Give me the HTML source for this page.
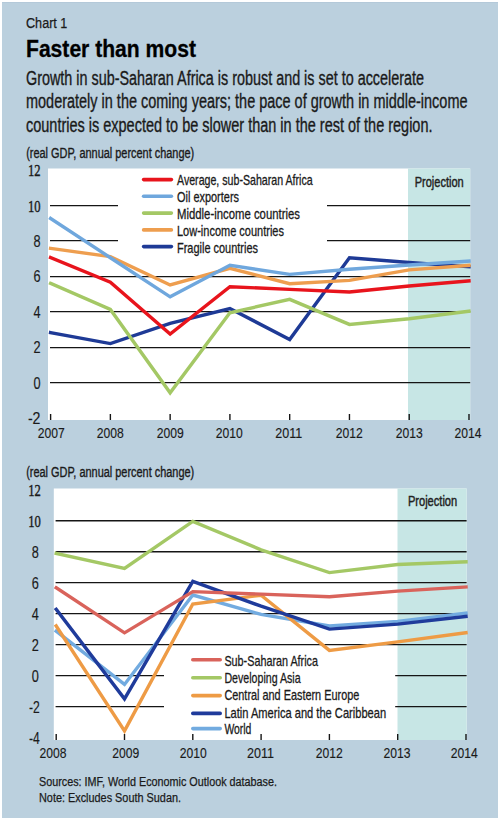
<!DOCTYPE html><html><head><meta charset="utf-8"><style>html,body{margin:0;padding:0;background:#fff;overflow:hidden;width:500px;height:820px;}svg{display:block;}</style></head><body>
<svg width="500" height="820" viewBox="0 0 500 820">
<rect x="0" y="0" width="500" height="820" fill="#fff"/>
<rect x="2" y="2" width="496" height="816" fill="#BBD0DE"/>
<rect x="2" y="2" width="496" height="1" fill="#B4C9D9"/>
<text x="26.00" y="27.60" font-family='"Liberation Sans", sans-serif' font-size="15.4" font-weight="normal" fill="#1a1a1a" text-anchor="start" textLength="41.40" lengthAdjust="spacingAndGlyphs" stroke="#1a1a1a" stroke-width="0.25">Chart 1</text>
<text x="26.00" y="56.50" font-family='"Liberation Sans", sans-serif' font-size="23.2" font-weight="bold" fill="#000" text-anchor="start" textLength="170.00" lengthAdjust="spacingAndGlyphs" stroke="#000" stroke-width="0.3">Faster than most</text>
<text x="26.00" y="84.60" font-family='"Liberation Sans", sans-serif' font-size="19.5" font-weight="normal" fill="#1a1a1a" text-anchor="start" textLength="398.00" lengthAdjust="spacingAndGlyphs" stroke="#1a1a1a" stroke-width="0.35">Growth in sub-Saharan Africa is robust and is set to accelerate</text>
<text x="26.00" y="108.30" font-family='"Liberation Sans", sans-serif' font-size="19.5" font-weight="normal" fill="#1a1a1a" text-anchor="start" textLength="441.50" lengthAdjust="spacingAndGlyphs" stroke="#1a1a1a" stroke-width="0.35">moderately in the coming years; the pace of growth in middle-income</text>
<text x="26.00" y="132.10" font-family='"Liberation Sans", sans-serif' font-size="19.5" font-weight="normal" fill="#1a1a1a" text-anchor="start" textLength="406.50" lengthAdjust="spacingAndGlyphs" stroke="#1a1a1a" stroke-width="0.35">countries is expected to be slower than in the rest of the region.</text>
<rect x="48" y="168.5" width="422.2" height="251.5" fill="#fff"/>
<rect x="408" y="168.5" width="62.19999999999999" height="251.5" fill="#C7E6E5"/>
<line x1="50.0" y1="382.50" x2="470.2" y2="382.50" stroke="#151515" stroke-width="1.25"/>
<line x1="50.0" y1="347.50" x2="470.2" y2="347.50" stroke="#151515" stroke-width="1.25"/>
<line x1="50.0" y1="311.50" x2="470.2" y2="311.50" stroke="#151515" stroke-width="1.25"/>
<line x1="50.0" y1="276.50" x2="470.2" y2="276.50" stroke="#151515" stroke-width="1.25"/>
<line x1="50.0" y1="240.50" x2="118" y2="240.50" stroke="#151515" stroke-width="1.25"/>
<line x1="327" y1="240.50" x2="470.2" y2="240.50" stroke="#151515" stroke-width="1.25"/>
<line x1="50.0" y1="205.50" x2="118" y2="205.50" stroke="#151515" stroke-width="1.25"/>
<line x1="327" y1="205.50" x2="470.2" y2="205.50" stroke="#151515" stroke-width="1.25"/>
<line x1="50.60" y1="414" x2="50.60" y2="420" stroke="#151515" stroke-width="1.4"/>
<line x1="110.37" y1="414" x2="110.37" y2="420" stroke="#151515" stroke-width="1.4"/>
<line x1="170.14" y1="414" x2="170.14" y2="420" stroke="#151515" stroke-width="1.4"/>
<line x1="229.91" y1="414" x2="229.91" y2="420" stroke="#151515" stroke-width="1.4"/>
<line x1="289.68" y1="414" x2="289.68" y2="420" stroke="#151515" stroke-width="1.4"/>
<line x1="349.45" y1="414" x2="349.45" y2="420" stroke="#151515" stroke-width="1.4"/>
<line x1="409.22" y1="414" x2="409.22" y2="420" stroke="#151515" stroke-width="1.4"/>
<line x1="468.99" y1="414" x2="468.99" y2="420" stroke="#151515" stroke-width="1.4"/>
<polyline points="50.60,332.59 110.37,343.56 170.14,323.38 229.91,308.51 289.68,339.49 349.45,257.72 409.22,262.49 468.99,266.74" fill="none" stroke="#1E3A96" stroke-width="3.4" stroke-linejoin="miter" stroke-miterlimit="3" stroke-linecap="square"/>
<polyline points="50.60,248.33 110.37,256.65 170.14,284.97 229.91,268.34 289.68,283.73 349.45,280.37 409.22,269.93 468.99,265.33" fill="none" stroke="#EE9E4F" stroke-width="3.4" stroke-linejoin="miter" stroke-miterlimit="3" stroke-linecap="square"/>
<polyline points="50.60,283.38 110.37,309.40 170.14,392.77 229.91,312.76 289.68,299.31 349.45,324.44 409.22,318.78 468.99,311.17" fill="none" stroke="#A4C865" stroke-width="3.4" stroke-linejoin="miter" stroke-miterlimit="3" stroke-linecap="square"/>
<polyline points="50.60,218.42 110.37,257.72 170.14,296.83 229.91,265.33 289.68,274.35 349.45,269.22 409.22,264.97 468.99,261.08" fill="none" stroke="#6FA7DD" stroke-width="3.4" stroke-linejoin="miter" stroke-miterlimit="3" stroke-linecap="square"/>
<polyline points="50.60,257.54 110.37,282.14 170.14,334.00 229.91,286.74 289.68,289.40 349.45,292.05 409.22,286.03 468.99,280.90" fill="none" stroke="#E8141C" stroke-width="3.4" stroke-linejoin="miter" stroke-miterlimit="3" stroke-linecap="square"/>
<line x1="143.6" y1="179.6" x2="171.4" y2="179.6" stroke="#E8141C" stroke-width="3.6" stroke-linecap="round"/>
<text x="177.00" y="184.90" font-family='"Liberation Sans", sans-serif' font-size="14.5" font-weight="normal" fill="#1a1a1a" text-anchor="start" textLength="135.60" lengthAdjust="spacingAndGlyphs" stroke="#1a1a1a" stroke-width="0.3">Average, sub-Saharan Africa</text>
<line x1="143.6" y1="196.3" x2="171.4" y2="196.3" stroke="#6FA7DD" stroke-width="3.6" stroke-linecap="round"/>
<text x="177.00" y="201.90" font-family='"Liberation Sans", sans-serif' font-size="14.5" font-weight="normal" fill="#1a1a1a" text-anchor="start" textLength="62.00" lengthAdjust="spacingAndGlyphs" stroke="#1a1a1a" stroke-width="0.3">Oil exporters</text>
<line x1="143.6" y1="213.1" x2="171.4" y2="213.1" stroke="#A4C865" stroke-width="3.6" stroke-linecap="round"/>
<text x="177.00" y="218.90" font-family='"Liberation Sans", sans-serif' font-size="14.5" font-weight="normal" fill="#1a1a1a" text-anchor="start" textLength="123.00" lengthAdjust="spacingAndGlyphs" stroke="#1a1a1a" stroke-width="0.3">Middle-income countries</text>
<line x1="143.6" y1="229.9" x2="171.4" y2="229.9" stroke="#EE9E4F" stroke-width="3.6" stroke-linecap="round"/>
<text x="177.00" y="235.60" font-family='"Liberation Sans", sans-serif' font-size="14.5" font-weight="normal" fill="#1a1a1a" text-anchor="start" textLength="107.00" lengthAdjust="spacingAndGlyphs" stroke="#1a1a1a" stroke-width="0.3">Low-income countries</text>
<line x1="143.6" y1="246.6" x2="171.4" y2="246.6" stroke="#1E3A96" stroke-width="3.6" stroke-linecap="round"/>
<text x="177.00" y="252.50" font-family='"Liberation Sans", sans-serif' font-size="14.5" font-weight="normal" fill="#1a1a1a" text-anchor="start" textLength="81.00" lengthAdjust="spacingAndGlyphs" stroke="#1a1a1a" stroke-width="0.3">Fragile countries</text>
<text x="414.70" y="186.80" font-family='"Liberation Sans", sans-serif' font-size="15" font-weight="normal" fill="#222" text-anchor="start" textLength="49.00" lengthAdjust="spacingAndGlyphs" stroke="#222" stroke-width="0.45">Projection</text>
<text x="40.50" y="424.00" font-family='"Liberation Sans", sans-serif' font-size="16.2" font-weight="normal" fill="#1a1a1a" text-anchor="end" textLength="12.60" lengthAdjust="spacingAndGlyphs" stroke="#1a1a1a" stroke-width="0.15">-2</text>
<text x="40.50" y="388.60" font-family='"Liberation Sans", sans-serif' font-size="16.2" font-weight="normal" fill="#1a1a1a" text-anchor="end" textLength="7.10" lengthAdjust="spacingAndGlyphs" stroke="#1a1a1a" stroke-width="0.15">0</text>
<text x="40.50" y="353.20" font-family='"Liberation Sans", sans-serif' font-size="16.2" font-weight="normal" fill="#1a1a1a" text-anchor="end" textLength="7.10" lengthAdjust="spacingAndGlyphs" stroke="#1a1a1a" stroke-width="0.15">2</text>
<text x="40.50" y="317.80" font-family='"Liberation Sans", sans-serif' font-size="16.2" font-weight="normal" fill="#1a1a1a" text-anchor="end" textLength="7.10" lengthAdjust="spacingAndGlyphs" stroke="#1a1a1a" stroke-width="0.15">4</text>
<text x="40.50" y="282.40" font-family='"Liberation Sans", sans-serif' font-size="16.2" font-weight="normal" fill="#1a1a1a" text-anchor="end" textLength="7.10" lengthAdjust="spacingAndGlyphs" stroke="#1a1a1a" stroke-width="0.15">6</text>
<text x="40.50" y="247.00" font-family='"Liberation Sans", sans-serif' font-size="16.2" font-weight="normal" fill="#1a1a1a" text-anchor="end" textLength="7.10" lengthAdjust="spacingAndGlyphs" stroke="#1a1a1a" stroke-width="0.15">8</text>
<text x="40.50" y="211.50" font-family='"Liberation Serif", serif' font-size="16.3" font-weight="normal" fill="#1a1a1a" text-anchor="end" textLength="12.60" lengthAdjust="spacingAndGlyphs" stroke="#1a1a1a" stroke-width="0.4">10</text>
<text x="40.50" y="176.10" font-family='"Liberation Serif", serif' font-size="16.3" font-weight="normal" fill="#1a1a1a" text-anchor="end" textLength="12.60" lengthAdjust="spacingAndGlyphs" stroke="#1a1a1a" stroke-width="0.4">12</text>
<text x="51.25" y="438.00" font-family='"Liberation Sans", sans-serif' font-size="15.5" font-weight="normal" fill="#1a1a1a" text-anchor="middle" textLength="27.00" lengthAdjust="spacingAndGlyphs" stroke="#1a1a1a" stroke-width="0.15">2007</text>
<text x="110.25" y="438.00" font-family='"Liberation Sans", sans-serif' font-size="15.5" font-weight="normal" fill="#1a1a1a" text-anchor="middle" textLength="27.00" lengthAdjust="spacingAndGlyphs" stroke="#1a1a1a" stroke-width="0.15">2008</text>
<text x="170.25" y="438.00" font-family='"Liberation Sans", sans-serif' font-size="15.5" font-weight="normal" fill="#1a1a1a" text-anchor="middle" textLength="27.00" lengthAdjust="spacingAndGlyphs" stroke="#1a1a1a" stroke-width="0.15">2009</text>
<text x="229.25" y="438.00" font-family='"Liberation Sans", sans-serif' font-size="15.5" font-weight="normal" fill="#1a1a1a" text-anchor="middle" textLength="27.00" lengthAdjust="spacingAndGlyphs" stroke="#1a1a1a" stroke-width="0.15">2010</text>
<text x="288.75" y="438.00" font-family='"Liberation Sans", sans-serif' font-size="15.5" font-weight="normal" fill="#1a1a1a" text-anchor="middle" textLength="27.00" lengthAdjust="spacingAndGlyphs" stroke="#1a1a1a" stroke-width="0.15">2011</text>
<text x="349.25" y="438.00" font-family='"Liberation Sans", sans-serif' font-size="15.5" font-weight="normal" fill="#1a1a1a" text-anchor="middle" textLength="27.00" lengthAdjust="spacingAndGlyphs" stroke="#1a1a1a" stroke-width="0.15">2012</text>
<text x="409.25" y="438.00" font-family='"Liberation Sans", sans-serif' font-size="15.5" font-weight="normal" fill="#1a1a1a" text-anchor="middle" textLength="27.00" lengthAdjust="spacingAndGlyphs" stroke="#1a1a1a" stroke-width="0.15">2013</text>
<text x="468.00" y="438.00" font-family='"Liberation Sans", sans-serif' font-size="15.5" font-weight="normal" fill="#1a1a1a" text-anchor="middle" textLength="27.00" lengthAdjust="spacingAndGlyphs" stroke="#1a1a1a" stroke-width="0.15">2014</text>
<text x="26.20" y="157.90" font-family='"Liberation Sans", sans-serif' font-size="14" font-weight="normal" fill="#1a1a1a" text-anchor="start" textLength="168.00" lengthAdjust="spacingAndGlyphs" stroke="#1a1a1a" stroke-width="0.35">(real GDP, annual percent change)</text>
<rect x="53.8" y="488.5" width="412.8" height="251.5" fill="#fff"/>
<rect x="397.5" y="488.5" width="69.10000000000002" height="251.5" fill="#C7E6E5"/>
<line x1="55.6" y1="706.58" x2="164" y2="706.58" stroke="#151515" stroke-width="1.4"/>
<line x1="395.2" y1="706.58" x2="466.6" y2="706.58" stroke="#151515" stroke-width="1.4"/>
<line x1="55.6" y1="675.60" x2="164" y2="675.60" stroke="#151515" stroke-width="1.4"/>
<line x1="395.2" y1="675.60" x2="466.6" y2="675.60" stroke="#151515" stroke-width="1.4"/>
<line x1="55.6" y1="644.62" x2="466.6" y2="644.62" stroke="#151515" stroke-width="1.4"/>
<line x1="55.6" y1="613.64" x2="466.6" y2="613.64" stroke="#151515" stroke-width="1.4"/>
<line x1="55.6" y1="582.66" x2="466.6" y2="582.66" stroke="#151515" stroke-width="1.4"/>
<line x1="55.6" y1="551.68" x2="466.6" y2="551.68" stroke="#151515" stroke-width="1.4"/>
<line x1="55.6" y1="520.70" x2="466.6" y2="520.70" stroke="#151515" stroke-width="1.4"/>
<line x1="56.20" y1="734" x2="56.20" y2="740" stroke="#151515" stroke-width="1.4"/>
<line x1="124.50" y1="734" x2="124.50" y2="740" stroke="#151515" stroke-width="1.4"/>
<line x1="192.80" y1="734" x2="192.80" y2="740" stroke="#151515" stroke-width="1.4"/>
<line x1="261.10" y1="734" x2="261.10" y2="740" stroke="#151515" stroke-width="1.4"/>
<line x1="329.40" y1="734" x2="329.40" y2="740" stroke="#151515" stroke-width="1.4"/>
<line x1="397.70" y1="734" x2="397.70" y2="740" stroke="#151515" stroke-width="1.4"/>
<line x1="466.00" y1="734" x2="466.00" y2="740" stroke="#151515" stroke-width="1.4"/>
<polyline points="56.20,631.14 124.50,684.43 192.80,595.05 261.10,614.41 329.40,626.03 397.70,621.38 466.00,613.02" fill="none" stroke="#72ABE0" stroke-width="3.4" stroke-linejoin="miter" stroke-miterlimit="3" stroke-linecap="square"/>
<polyline points="56.20,625.88 124.50,730.90 192.80,604.04 261.10,595.21 329.40,650.35 397.70,641.83 466.00,632.69" fill="none" stroke="#EE9B45" stroke-width="3.4" stroke-linejoin="miter" stroke-miterlimit="3" stroke-linecap="square"/>
<polyline points="56.20,609.30 124.50,698.84 192.80,581.42 261.10,606.20 329.40,629.13 397.70,624.17 466.00,616.43" fill="none" stroke="#1F3B9B" stroke-width="3.4" stroke-linejoin="miter" stroke-miterlimit="3" stroke-linecap="square"/>
<polyline points="56.20,553.38 124.50,568.41 192.80,521.32 261.10,549.82 329.40,572.59 397.70,564.54 466.00,561.75" fill="none" stroke="#A4C865" stroke-width="3.4" stroke-linejoin="miter" stroke-miterlimit="3" stroke-linecap="square"/>
<polyline points="56.20,587.77 124.50,632.85 192.80,591.64 261.10,594.12 329.40,596.76 397.70,591.18 466.00,587.00" fill="none" stroke="#D9635B" stroke-width="3.4" stroke-linejoin="miter" stroke-miterlimit="3" stroke-linecap="square"/>
<line x1="192.8" y1="659.8" x2="220.2" y2="659.8" stroke="#D9635B" stroke-width="3.6" stroke-linecap="round"/>
<text x="224.40" y="665.80" font-family='"Liberation Sans", sans-serif' font-size="15" font-weight="normal" fill="#1a1a1a" text-anchor="start" textLength="93.60" lengthAdjust="spacingAndGlyphs" stroke="#1a1a1a" stroke-width="0.3">Sub-Saharan Africa</text>
<line x1="192.8" y1="677.8" x2="220.2" y2="677.8" stroke="#A4C865" stroke-width="3.6" stroke-linecap="round"/>
<text x="224.40" y="683.40" font-family='"Liberation Sans", sans-serif' font-size="15" font-weight="normal" fill="#1a1a1a" text-anchor="start" textLength="76.20" lengthAdjust="spacingAndGlyphs" stroke="#1a1a1a" stroke-width="0.3">Developing Asia</text>
<line x1="192.8" y1="695.6" x2="220.2" y2="695.6" stroke="#EE9B45" stroke-width="3.6" stroke-linecap="round"/>
<text x="224.40" y="700.20" font-family='"Liberation Sans", sans-serif' font-size="15" font-weight="normal" fill="#1a1a1a" text-anchor="start" textLength="134.90" lengthAdjust="spacingAndGlyphs" stroke="#1a1a1a" stroke-width="0.3">Central and Eastern Europe</text>
<line x1="192.8" y1="713.4" x2="220.2" y2="713.4" stroke="#1F3B9B" stroke-width="3.6" stroke-linecap="round"/>
<text x="224.40" y="717.80" font-family='"Liberation Sans", sans-serif' font-size="15" font-weight="normal" fill="#1a1a1a" text-anchor="start" textLength="161.70" lengthAdjust="spacingAndGlyphs" stroke="#1a1a1a" stroke-width="0.3">Latin America and the Caribbean</text>
<line x1="192.8" y1="728.6" x2="220.2" y2="728.6" stroke="#72ABE0" stroke-width="3.6" stroke-linecap="round"/>
<text x="224.40" y="733.60" font-family='"Liberation Sans", sans-serif' font-size="15" font-weight="normal" fill="#1a1a1a" text-anchor="start" textLength="27.00" lengthAdjust="spacingAndGlyphs" stroke="#1a1a1a" stroke-width="0.3">World</text>
<text x="407.90" y="506.00" font-family='"Liberation Sans", sans-serif' font-size="15" font-weight="normal" fill="#222" text-anchor="start" textLength="49.30" lengthAdjust="spacingAndGlyphs" stroke="#222" stroke-width="0.45">Projection</text>
<text x="39.80" y="743.66" font-family='"Liberation Sans", sans-serif' font-size="16.2" font-weight="normal" fill="#1a1a1a" text-anchor="end" textLength="10.80" lengthAdjust="spacingAndGlyphs" stroke="#1a1a1a" stroke-width="0.15">-4</text>
<text x="39.80" y="712.68" font-family='"Liberation Sans", sans-serif' font-size="16.2" font-weight="normal" fill="#1a1a1a" text-anchor="end" textLength="10.80" lengthAdjust="spacingAndGlyphs" stroke="#1a1a1a" stroke-width="0.15">-2</text>
<text x="38.80" y="681.70" font-family='"Liberation Sans", sans-serif' font-size="16.2" font-weight="normal" fill="#1a1a1a" text-anchor="end" textLength="7.10" lengthAdjust="spacingAndGlyphs" stroke="#1a1a1a" stroke-width="0.15">0</text>
<text x="38.80" y="650.72" font-family='"Liberation Sans", sans-serif' font-size="16.2" font-weight="normal" fill="#1a1a1a" text-anchor="end" textLength="7.10" lengthAdjust="spacingAndGlyphs" stroke="#1a1a1a" stroke-width="0.15">2</text>
<text x="38.80" y="619.74" font-family='"Liberation Sans", sans-serif' font-size="16.2" font-weight="normal" fill="#1a1a1a" text-anchor="end" textLength="7.10" lengthAdjust="spacingAndGlyphs" stroke="#1a1a1a" stroke-width="0.15">4</text>
<text x="38.80" y="588.76" font-family='"Liberation Sans", sans-serif' font-size="16.2" font-weight="normal" fill="#1a1a1a" text-anchor="end" textLength="7.10" lengthAdjust="spacingAndGlyphs" stroke="#1a1a1a" stroke-width="0.15">6</text>
<text x="38.80" y="557.78" font-family='"Liberation Sans", sans-serif' font-size="16.2" font-weight="normal" fill="#1a1a1a" text-anchor="end" textLength="7.10" lengthAdjust="spacingAndGlyphs" stroke="#1a1a1a" stroke-width="0.15">8</text>
<text x="40.80" y="526.70" font-family='"Liberation Serif", serif' font-size="16.3" font-weight="normal" fill="#1a1a1a" text-anchor="end" textLength="12.60" lengthAdjust="spacingAndGlyphs" stroke="#1a1a1a" stroke-width="0.4">10</text>
<text x="40.80" y="495.72" font-family='"Liberation Serif", serif' font-size="16.3" font-weight="normal" fill="#1a1a1a" text-anchor="end" textLength="12.60" lengthAdjust="spacingAndGlyphs" stroke="#1a1a1a" stroke-width="0.4">12</text>
<text x="53.00" y="757.50" font-family='"Liberation Sans", sans-serif' font-size="15.5" font-weight="normal" fill="#1a1a1a" text-anchor="middle" textLength="27.00" lengthAdjust="spacingAndGlyphs" stroke="#1a1a1a" stroke-width="0.15">2008</text>
<text x="125.75" y="757.50" font-family='"Liberation Sans", sans-serif' font-size="15.5" font-weight="normal" fill="#1a1a1a" text-anchor="middle" textLength="27.00" lengthAdjust="spacingAndGlyphs" stroke="#1a1a1a" stroke-width="0.15">2009</text>
<text x="193.25" y="757.50" font-family='"Liberation Sans", sans-serif' font-size="15.5" font-weight="normal" fill="#1a1a1a" text-anchor="middle" textLength="27.00" lengthAdjust="spacingAndGlyphs" stroke="#1a1a1a" stroke-width="0.15">2010</text>
<text x="260.50" y="757.50" font-family='"Liberation Sans", sans-serif' font-size="15.5" font-weight="normal" fill="#1a1a1a" text-anchor="middle" textLength="27.00" lengthAdjust="spacingAndGlyphs" stroke="#1a1a1a" stroke-width="0.15">2011</text>
<text x="329.25" y="757.50" font-family='"Liberation Sans", sans-serif' font-size="15.5" font-weight="normal" fill="#1a1a1a" text-anchor="middle" textLength="27.00" lengthAdjust="spacingAndGlyphs" stroke="#1a1a1a" stroke-width="0.15">2012</text>
<text x="397.00" y="757.50" font-family='"Liberation Sans", sans-serif' font-size="15.5" font-weight="normal" fill="#1a1a1a" text-anchor="middle" textLength="27.00" lengthAdjust="spacingAndGlyphs" stroke="#1a1a1a" stroke-width="0.15">2013</text>
<text x="464.25" y="757.50" font-family='"Liberation Sans", sans-serif' font-size="15.5" font-weight="normal" fill="#1a1a1a" text-anchor="middle" textLength="27.00" lengthAdjust="spacingAndGlyphs" stroke="#1a1a1a" stroke-width="0.15">2014</text>
<text x="26.20" y="477.30" font-family='"Liberation Sans", sans-serif' font-size="14" font-weight="normal" fill="#1a1a1a" text-anchor="start" textLength="168.00" lengthAdjust="spacingAndGlyphs" stroke="#1a1a1a" stroke-width="0.35">(real GDP, annual percent change)</text>
<text x="39.00" y="786.40" font-family='"Liberation Sans", sans-serif' font-size="12.5" font-weight="normal" fill="#1a1a1a" text-anchor="start" textLength="238.00" lengthAdjust="spacingAndGlyphs" stroke="#1a1a1a" stroke-width="0.25">Sources: IMF, World Economic Outlook database.</text>
<text x="39.00" y="802.00" font-family='"Liberation Sans", sans-serif' font-size="12.5" font-weight="normal" fill="#1a1a1a" text-anchor="start" textLength="142.00" lengthAdjust="spacingAndGlyphs" stroke="#1a1a1a" stroke-width="0.25">Note: Excludes South Sudan.</text>
</svg></body></html>
